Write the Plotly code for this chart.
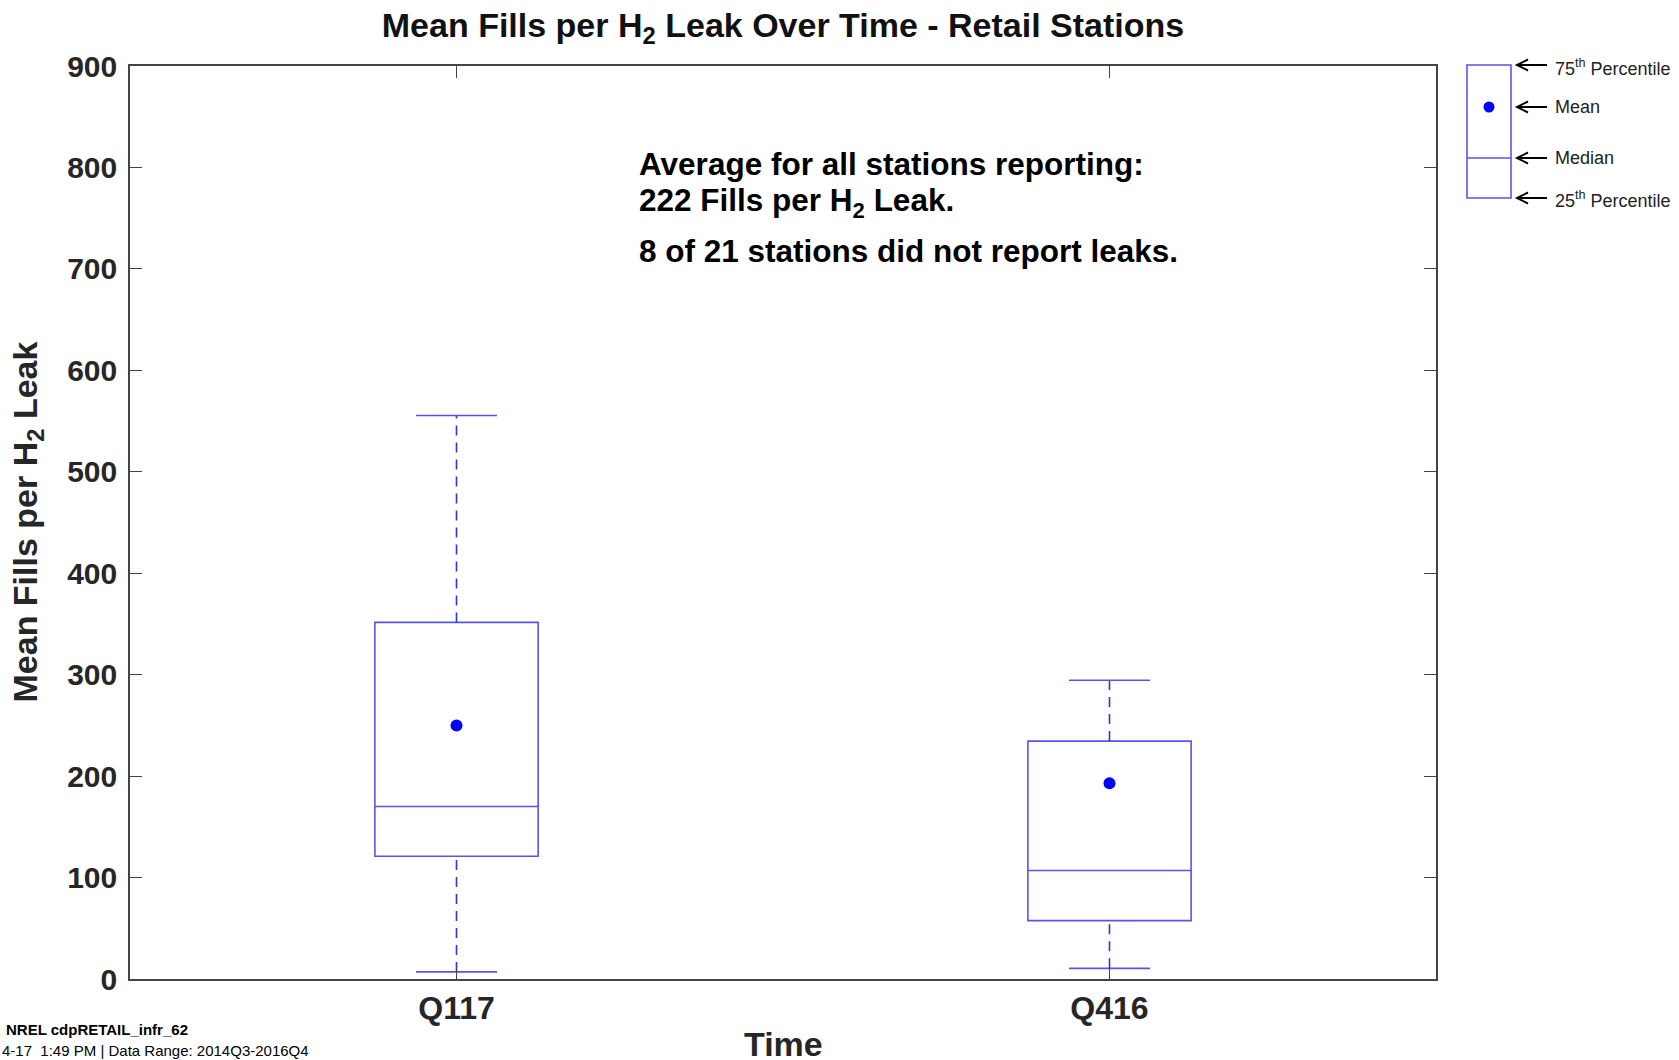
import plotly.graph_objects as go

# ---- data ----
categories = ["Q117", "Q416"]
positions = [1, 2]
q1_vals = [121, 57.5]
median_vals = [170, 107]
q3_vals = [351.5, 234.5]
lower_whisker = [7, 10.5]
upper_whisker = [555.5, 294.5]
mean_vals = [250, 193]
y_ticks = [0, 100, 200, 300, 400, 500, 600, 700, 800, 900]

# ---- layout geometry (pixels) ----
W, H = 1679, 1060
ML, MR, MT, MB = 130, 243, 66, 81
PW, PH = W - ML - MR, H - MT - MB

def px(xp):
    return (xp - ML) / PW

def py(yp):
    return (H - MB - yp) / PH

BOX_COLOR = "rgb(85,85,235)"
WHISK_COLOR = "rgb(50,50,215)"
FONT = "Liberation Sans, Arial, sans-serif"
BOX_WIDTH = 0.25
CAP_HALF = 0.062

fig = go.Figure()

# boxes (q1 / median / q3)
fig.add_trace(go.Box(
    x=positions, q1=q1_vals, median=median_vals, q3=q3_vals,
    lowerfence=q1_vals, upperfence=q3_vals,
    width=BOX_WIDTH, whiskerwidth=0,
    line=dict(color=BOX_COLOR, width=1.6),
    fillcolor="rgba(0,0,0,0)", showlegend=False, hoverinfo="skip",
))

# dashed whiskers
wx, wy = [], []
for p, lo, a, b, hi in zip(positions, lower_whisker, q1_vals, q3_vals, upper_whisker):
    wx += [p, p, None, p, p, None]
    wy += [lo, a, None, b, hi, None]
fig.add_trace(go.Scatter(x=wx, y=wy, mode="lines",
                         line=dict(color=WHISK_COLOR, width=1.6, dash="10px,7px"),
                         showlegend=False, hoverinfo="skip"))

# whisker caps
cx, cy = [], []
for p, lo, hi in zip(positions, lower_whisker, upper_whisker):
    cx += [p - CAP_HALF, p + CAP_HALF, None, p - CAP_HALF, p + CAP_HALF, None]
    cy += [lo, lo, None, hi, hi, None]
fig.add_trace(go.Scatter(x=cx, y=cy, mode="lines",
                         line=dict(color=BOX_COLOR, width=1.6),
                         showlegend=False, hoverinfo="skip"))

# means
fig.add_trace(go.Scatter(x=positions, y=mean_vals, mode="markers",
                         marker=dict(color="#0000ff", size=12),
                         showlegend=False, hoverinfo="skip"))

axis_common = dict(
    showline=True, linecolor="#444444", linewidth=1.5, mirror="ticks",
    ticks="inside", tickcolor="#444444", ticklen=12, tickwidth=1,
    showgrid=False, zeroline=False,
)

fig.update_layout(
    width=W, height=H,
    margin=dict(l=ML, r=MR, t=MT, b=MB, autoexpand=False),
    paper_bgcolor="white", plot_bgcolor="white",
    title=dict(text="Mean Fills per H<sub>2</sub> Leak Over Time - Retail Stations",
               x=0.5, xref="paper", xanchor="center",
               y=1 - 25 / H, yref="container", yanchor="middle",
               font=dict(family=FONT, size=34, color="#111111", weight="bold")),
    xaxis=dict(range=[0.5, 2.5], tickvals=positions, ticktext=categories,
               ticklabelstandoff=0,
               tickfont=dict(family=FONT, size=32, color="#262626", weight="bold"),
               **axis_common),
    yaxis=dict(range=[0, 900], tickvals=y_ticks, ticklabelstandoff=5,
               tickfont=dict(family=FONT, size=30, color="#262626", weight="bold"),
               **axis_common),
)

ann = []
# axis titles
ann.append(dict(text="Mean Fills per H<sub>2</sub> Leak", textangle=-90,
                xref="paper", yref="paper", x=px(27), y=0.5,
                xanchor="center", yanchor="middle", showarrow=False,
                font=dict(family=FONT, size=34, color="#262626", weight="bold")))
ann.append(dict(text="Time", xref="paper", yref="paper", x=0.5, y=py(1044),
                xanchor="center", yanchor="middle", showarrow=False,
                font=dict(family=FONT, size=34, color="#262626", weight="bold")))
# text inside plot
note_font = dict(family=FONT, size=31.5, color="#000000", weight="bold")
ann.append(dict(text="Average for all stations reporting:", xref="paper", yref="paper",
                x=px(637), y=py(164), xanchor="left", yanchor="middle",
                showarrow=False, font=note_font))
ann.append(dict(text="222 Fills per H<sub>2</sub> Leak.", xref="paper", yref="paper",
                x=px(637), y=py(203), xanchor="left", yanchor="middle",
                showarrow=False, font=note_font))
ann.append(dict(text="8 of 21 stations did not report leaks.", xref="paper", yref="paper",
                x=px(637), y=py(251), xanchor="left", yanchor="middle",
                showarrow=False, font=note_font))
# footer
ann.append(dict(text="NREL cdpRETAIL_infr_62", xref="paper", yref="paper",
                x=px(4), y=py(1029), xanchor="left", yanchor="middle", showarrow=False,
                font=dict(family=FONT, size=15, color="#000000", weight="bold")))
ann.append(dict(text="4-17  1:49 PM | Data Range: 2014Q3-2016Q4", xref="paper", yref="paper",
                x=px(0), y=py(1050), xanchor="left", yanchor="middle", showarrow=False,
                font=dict(family=FONT, size=15, color="#000000")))

# key (legend explaining the box)
key_items = [(65, "75<sup>th</sup> Percentile", 2), (107, "Mean", 0),
             (158, "Median", 0), (198, "25<sup>th</sup> Percentile", 2)]
shapes = []
shapes.append(dict(type="rect", xref="paper", yref="paper",
                   x0=px(1467), x1=px(1511), y0=py(198), y1=py(65),
                   line=dict(color=BOX_COLOR, width=1.6)))
shapes.append(dict(type="line", xref="paper", yref="paper",
                   x0=px(1467), x1=px(1511), y0=py(158), y1=py(158),
                   line=dict(color=BOX_COLOR, width=1.6)))
shapes.append(dict(type="circle", xref="paper", yref="paper",
                   x0=px(1483.5), x1=px(1494.5), y0=py(112.5), y1=py(101.5),
                   fillcolor="#0000ff", line=dict(color="#0000ff", width=0)))
for yy, label, dy in key_items:
    path = (f"M {px(1547)},{py(yy)} L {px(1517)},{py(yy)} "
            f"M {px(1528)},{py(yy - 5.5)} L {px(1517)},{py(yy)} L {px(1528)},{py(yy + 5.5)}")
    shapes.append(dict(type="path", xref="paper", yref="paper", path=path,
                       line=dict(color="#000000", width=2)))
    ann.append(dict(text=label, xref="paper", yref="paper", x=px(1553), y=py(yy + dy),
                    xanchor="left", yanchor="middle", showarrow=False,
                    font=dict(family=FONT, size=18, color="#222222")))

fig.update_layout(annotations=ann, shapes=shapes)

fig.write_html("out.html", config={"displayModeBar": False},
               post_script="document.body.style.margin='0';")
